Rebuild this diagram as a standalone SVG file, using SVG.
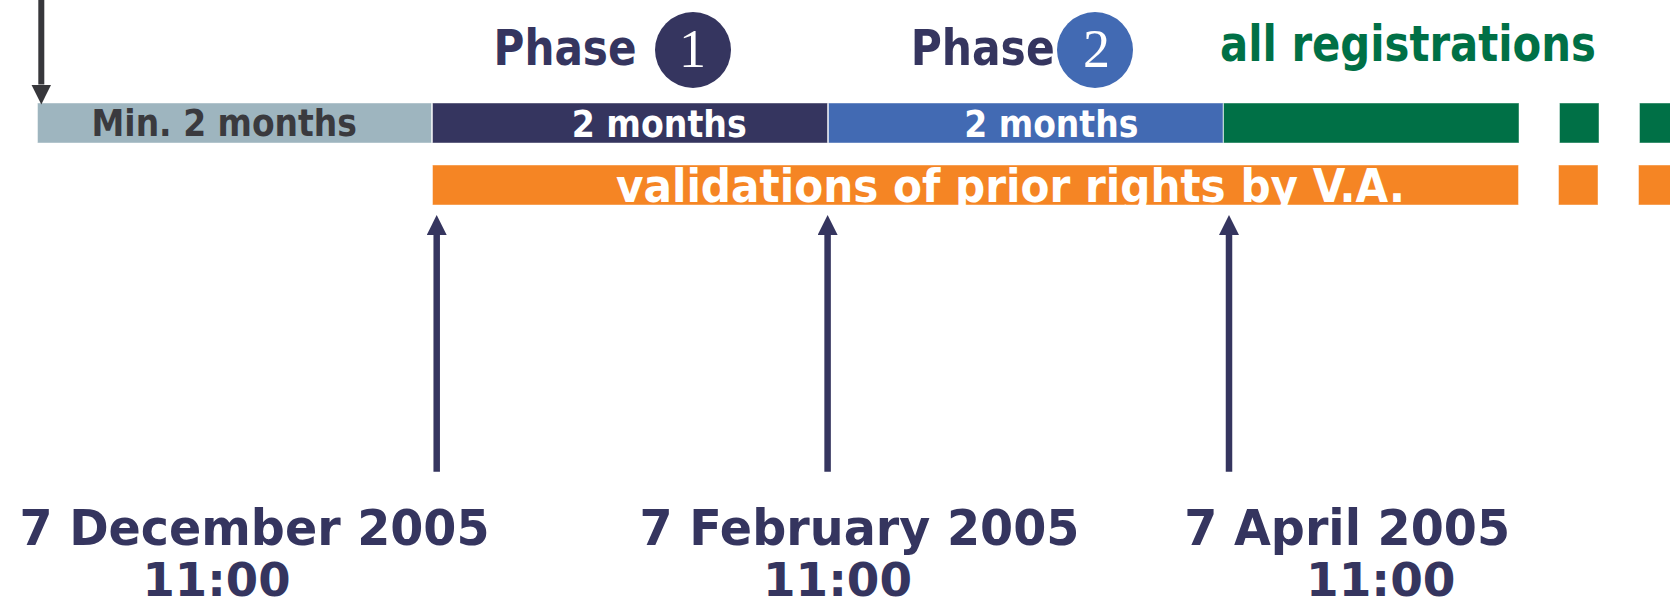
<svg xmlns="http://www.w3.org/2000/svg" width="1670" height="607" viewBox="0 0 1670 607">
  <defs>
    <style>
      .bar { stroke: #ffffff; stroke-opacity: 0.45; stroke-width: 1; }
      .cond { font-family: "DejaVu Sans Condensed", "DejaVu Sans", "Liberation Sans", sans-serif; font-weight: bold; font-stretch: condensed; }
      .wide { font-family: "DejaVu Sans", "Liberation Sans", sans-serif; font-weight: bold; }
      .navy { fill: #35355F; }
      .white { fill: #ffffff; }
      .digit { font-family: "Liberation Serif", "DejaVu Serif", serif; font-size: 54px; fill: #ffffff; text-anchor: middle; }
      .date { font-size: 49px; }
      .time { font-size: 47px; }
      .up { stroke: #35355F; stroke-width: 6.5; fill: none; marker-end: url(#headNavy); }
    </style>
    <marker id="headNavy" markerUnits="userSpaceOnUse" markerWidth="20" markerHeight="20" refX="0" refY="10" orient="auto">
      <path d="M0,0 L20,10 L0,20 Z" fill="#35355F"/>
    </marker>
    <marker id="headGray" markerUnits="userSpaceOnUse" markerWidth="20" markerHeight="20" refX="0" refY="10" orient="auto">
      <path d="M0,0 L20,10 L0,20 Z" fill="#37373B"/>
    </marker>
  </defs>
  <rect width="1670" height="607" fill="#ffffff"/>

  <g id="bar-min">
    <rect class="bar" x="37.5" y="103" width="394" height="40" fill="#9EB5BF"/>
    <text class="cond" x="91.5" y="135.5" font-size="38" fill="#3A3A3E" textLength="265.5" lengthAdjust="spacingAndGlyphs">Min. 2 months</text>
  </g>

  <g id="bar-phase1">
    <rect class="bar" x="432.5" y="103" width="395" height="40" fill="#35355F"/>
    <text class="cond white" x="571.7" y="136.5" font-size="38" textLength="175" lengthAdjust="spacingAndGlyphs">2 months</text>
  </g>

  <g id="bar-phase2">
    <rect class="bar" x="828.5" y="103" width="394.5" height="40" fill="#426AB3"/>
    <text class="cond white" x="964.3" y="136.5" font-size="38" textLength="174" lengthAdjust="spacingAndGlyphs">2 months</text>
  </g>

  <g id="bar-registrations">
    <rect class="bar" x="1223.5" y="103" width="295.5" height="40" fill="#007046"/>
    <rect class="bar" x="1559.5" y="103" width="39.5" height="40" fill="#007046"/>
    <rect class="bar" x="1639.5" y="103" width="32" height="40" fill="#007046"/>
  </g>

  <g id="bar-validations">
    <rect class="bar" x="432.5" y="165" width="1086" height="40" fill="#F58524"/>
    <rect class="bar" x="1558.5" y="165" width="39.5" height="40" fill="#F58524"/>
    <rect class="bar" x="1638.5" y="165" width="33" height="40" fill="#F58524"/>
    <text class="cond white" x="616" y="201.5" font-size="46" textLength="789" lengthAdjust="spacingAndGlyphs">validations of prior rights by V.A.</text>
  </g>

  <g id="label-phase1">
    <text class="cond navy" x="493.5" y="65" font-size="49" textLength="143" lengthAdjust="spacingAndGlyphs">Phase</text>
    <circle cx="693" cy="50" r="38" fill="#35355F"/>
    <text class="digit" x="692.5" y="67">1</text>
  </g>

  <g id="label-phase2">
    <text class="cond navy" x="910.7" y="65" font-size="49" textLength="144" lengthAdjust="spacingAndGlyphs">Phase</text>
    <circle cx="1095" cy="50" r="38" fill="#426AB3"/>
    <text class="digit" x="1096.5" y="67">2</text>
  </g>

  <g id="label-registrations">
    <text class="cond" x="1220" y="61" font-size="49" fill="#007046" textLength="376" lengthAdjust="spacingAndGlyphs">all registrations</text>
  </g>

  <g id="date-december">
    <text class="wide navy date" x="19.5" y="545" textLength="470" lengthAdjust="spacingAndGlyphs">7 December 2005</text>
    <text class="wide navy time" x="142.5" y="596" textLength="148" lengthAdjust="spacingAndGlyphs">11:00</text>
  </g>

  <g id="date-february">
    <text class="wide navy date" x="639.5" y="545" textLength="440" lengthAdjust="spacingAndGlyphs">7 February 2005</text>
    <text class="wide navy time" x="763" y="596" textLength="149" lengthAdjust="spacingAndGlyphs">11:00</text>
  </g>

  <g id="date-april">
    <text class="wide navy date" x="1184.3" y="545" textLength="325.7" lengthAdjust="spacingAndGlyphs">7 April 2005</text>
    <text class="wide navy time" x="1306" y="596" textLength="149.5" lengthAdjust="spacingAndGlyphs">11:00</text>
  </g>

  <g id="connectors">
    <line x1="41.3" y1="0" x2="41.3" y2="84.5" stroke="#37373B" stroke-width="6" marker-end="url(#headGray)"/>
    <line class="up" x1="436.7" y1="471.7" x2="436.7" y2="235"/>
    <line class="up" x1="827.6" y1="471.7" x2="827.6" y2="235"/>
    <line class="up" x1="1229" y1="471.7" x2="1229" y2="235"/>
  </g>
</svg>
